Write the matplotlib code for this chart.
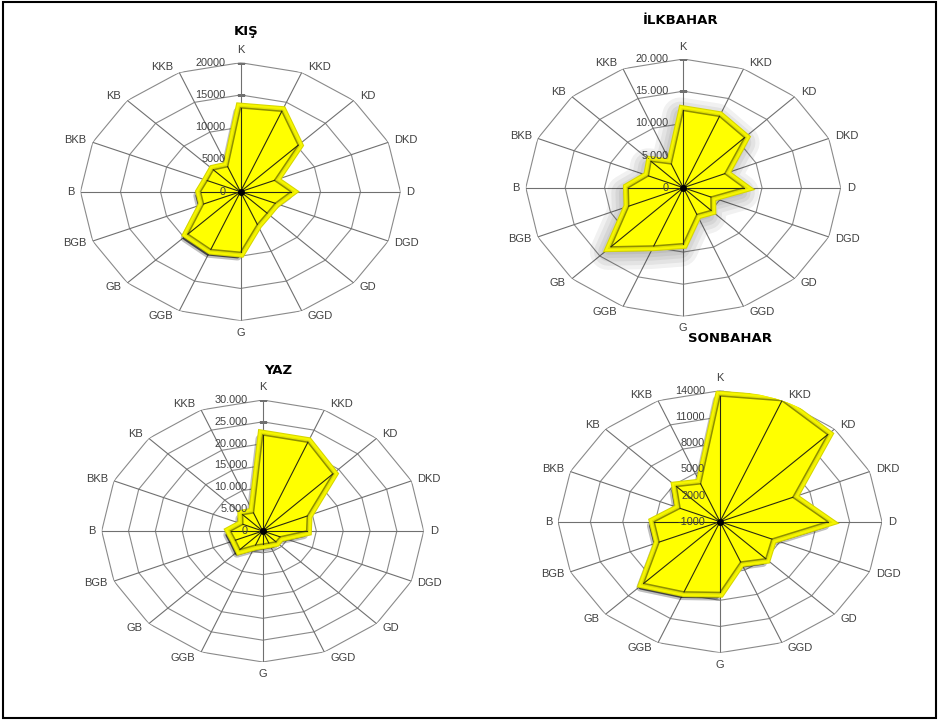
import numpy as np
import matplotlib
matplotlib.use("Agg")
import matplotlib.pyplot as plt
import matplotlib.transforms as mtransforms
from matplotlib import patheffects as pe
from matplotlib.patches import Rectangle

plt.rcParams["font.family"] = ["Liberation Sans", "DejaVu Sans"]

W, H = 939, 722

# wind directions, clockwise from north
directions = ["K", "KKD", "KD", "DKD", "D", "DGD", "GD", "GGD",
              "G", "GGB", "GB", "BGB", "B", "BKB", "KB", "KKB"]

# seasonal wind frequencies per direction
kis = [13000, 13500, 10200, 4600, 6300, 4700, 4700, 5500,
       9400, 9700, 9300, 5000, 5000, 4500, 4800, 4200]
ilkbahar = [12000, 12000, 11000, 5700, 7700, 3800, 5000, 4500,
            8700, 9800, 13000, 7500, 7000, 4800, 5800, 4000]
yaz = [22000, 22000, 18500, 9000, 8200, 3500, 3500, 3000,
       3000, 3500, 6000, 5500, 6000, 4000, 5300, 4500]
sonbahar = [13400, 14000, 13100, 6300, 9000, 4200, 5000, 4000,
            7100, 7700, 9000, 5100, 5100, 3000, 4700, 3700]

# radial axis ticks and their labels
kis_ticks = [0, 5000, 10000, 15000, 20000]
kis_labels = ["0", "5000", "10000", "15000", "20000"]
ilk_ticks = [0, 5000, 10000, 15000, 20000]
ilk_labels = ["0", "5.000", "10.000", "15.000", "20.000"]
yaz_ticks = [0, 5000, 10000, 15000, 20000, 25000, 30000]
yaz_labels = ["0", "5.000", "10.000", "15.000", "20.000", "25.000", "30.000"]
son_ticks = [-1000, 2000, 5000, 8000, 11000, 14000]
son_labels = ["-1000", "2000", "5000", "8000", "11000", "14000"]

fig = plt.figure(figsize=(W / 100, H / 100), dpi=100)
fig.patch.set_facecolor("white")


def px_rect(cx, cy, rx, ry):
    return [(cx - rx) / W, (H - cy - ry) / H, 2 * rx / W, 2 * ry / H]


def radar(rect, title, title_xy, values, ticks, labels, soft_shadow):
    ax = fig.add_axes(rect, projection="polar")
    ax.set_theta_zero_location("N")
    ax.set_theta_direction(-1)
    ax.set_aspect("auto")
    ax.set_rlim(ticks[0], ticks[-1])
    ax.grid(False)
    ax.spines["polar"].set_visible(False)
    ax.set_xticks([])
    ax.set_yticks([])
    ax.patch.set_visible(False)

    rmin, rmax = ticks[0], ticks[-1]
    theta = np.linspace(0, 2 * np.pi, len(directions), endpoint=False)
    tc = np.append(theta, theta[0])
    vals = np.append(values, values[0])

    # polygonal grid rings and spokes
    for v in ticks[1:]:
        ax.plot(tc, [v] * len(tc), color="#8a8a8a", lw=0.8, zorder=1)
    for t in theta:
        ax.plot([t, t], [rmin, rmax], color="#707070", lw=0.8, zorder=1)

    # drop shadow under the area
    if soft_shadow:
        off = mtransforms.offset_copy(ax.transData, fig=fig, x=-3, y=-5, units="dots")
        for lw in [26, 20, 14, 9, 4]:
            ax.fill(tc, vals, transform=off, facecolor="black", edgecolor="black",
                    lw=lw, alpha=0.055, joinstyle="round", zorder=2)
    else:
        off = mtransforms.offset_copy(ax.transData, fig=fig, x=-3, y=-4, units="dots")
        for lw, a in [(6, 0.25), (3, 0.65)]:
            ax.fill(tc, vals, transform=off, facecolor="black", edgecolor="black",
                    lw=lw, alpha=a, joinstyle="round", zorder=2)

    # bevelled yellow area
    ax.fill(tc, vals, facecolor="#FFFF00", edgecolor="#8F8F00", lw=1.1, zorder=4,
            path_effects=[pe.Stroke(linewidth=7.5, foreground="#D6D600"),
                          pe.Stroke(linewidth=6, foreground="#F6F600"),
                          pe.Stroke(linewidth=3, foreground="#E2E200"),
                          pe.Normal()])
    for t, v in zip(theta, values):
        ax.plot([t, t], [rmin, v], color="#2a2a10", lw=0.8, zorder=5)
    ax.plot([0], [rmin], "o", color="black", ms=4, zorder=6)

    # radial tick marks and labels along the north spoke
    ax.plot([0] * len(ticks), ticks, ls="none", marker="_", ms=6,
            color="#707070", zorder=1)
    for v, lab in zip(ticks, labels):
        ax.annotate(lab, xy=(0, v), xytext=(-15, 0), textcoords="offset pixels",
                    ha="right", va="center", fontsize=7.8, color="#404040", zorder=7)

    # direction labels
    for t, name in zip(theta, directions):
        s, c = np.sin(t), np.cos(t)
        if abs(s) < 1e-6:
            ha, dx, dy = "center", 0, (12.5 if c > 0 else -12)
        else:
            ha = "left" if s > 0 else "right"
            dx, dy = 6 * np.sign(s), 6 * c
        ax.annotate(name, xy=(t, rmax), xytext=(dx, dy), textcoords="offset pixels",
                    ha=ha, va="center", fontsize=8, color="#404040")

    fig.text(title_xy[0] / W, 1 - title_xy[1] / H, title, ha="center", va="center",
             fontsize=9.5, fontweight="bold", family="DejaVu Sans", color="black")
    return ax


radar(px_rect(240.5, 191.7, 160, 129), "KIŞ", (246, 31.5), kis,
      kis_ticks, kis_labels, False)
radar(px_rect(683.3, 187.7, 157.5, 128.7), "İLKBAHAR", (681, 20), ilkbahar,
      ilk_ticks, ilk_labels, True)
radar(px_rect(262.7, 531, 161, 131), "YAZ", (278, 371), yaz,
      yaz_ticks, yaz_labels, False)
radar(px_rect(720, 521.7, 162, 131), "SONBAHAR", (730, 338), sonbahar,
      son_ticks, son_labels, False)

# outer frame
fig.add_artist(Rectangle((3 / W, 4 / H), 933 / W, 716.5 / H, transform=fig.transFigure,
                         fill=False, edgecolor="black", lw=1.5))

fig.savefig("out.png", dpi=100)
